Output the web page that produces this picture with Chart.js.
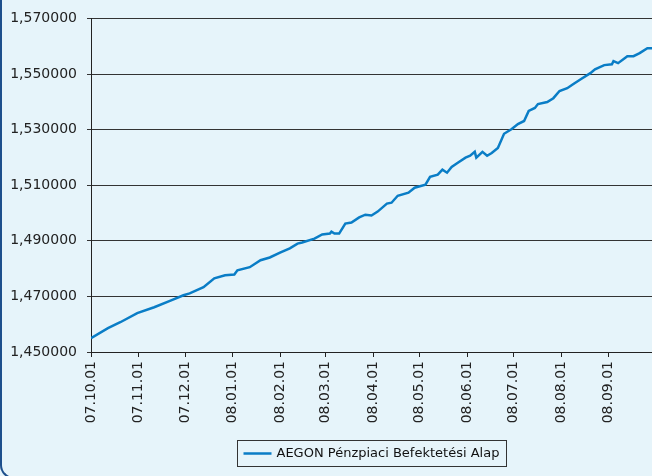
<!DOCTYPE html>
<html>
<head>
<meta charset="utf-8">
<script src="https://cdn.jsdelivr.net/npm/chart.js@4.4.1/dist/chart.umd.min.js"></script>
<style>
  html, body { margin: 0; padding: 0; width: 652px; height: 476px; overflow: hidden; background: #E6F4FA; }
  #frame { position: absolute; left: 0; top: 0; width: 700px; height: 479px; box-sizing: border-box;
           border-left: 2px solid #1D4F8C; border-bottom: 2px solid #1D4F8C;
           border-bottom-left-radius: 14px; z-index: 0; }
  #wrap { position: absolute; left: 0; top: 0; width: 652px; height: 476px; z-index: 1; }
</style>
</head>
<body>
<div id="frame"></div>
<div id="wrap"><canvas id="c" width="652" height="476"></canvas></div>
<script>
// ---- Data ----
const seriesLabel = 'AEGON Pénzpiaci Befektetési Alap';
const dates = [
  '2007-10-01','2007-10-12','2007-10-20','2007-10-31','2007-11-11','2007-11-22','2007-11-30',
  '2007-12-04','2007-12-13','2007-12-20','2007-12-27','2008-01-02','2008-01-04','2008-01-12',
  '2008-01-19','2008-01-25','2008-02-01','2008-02-07','2008-02-12','2008-02-15','2008-02-23',
  '2008-02-28','2008-03-04','2008-03-05','2008-03-07','2008-03-10','2008-03-14','2008-03-18',
  '2008-03-23','2008-03-27','2008-03-31','2008-04-04','2008-04-10','2008-04-13','2008-04-17',
  '2008-04-24','2008-04-28','2008-05-05','2008-05-08','2008-05-13','2008-05-16','2008-05-19',
  '2008-05-22','2008-05-26','2008-05-31','2008-06-03','2008-06-06','2008-06-07','2008-06-11',
  '2008-06-14','2008-06-17','2008-06-21','2008-06-25','2008-06-30','2008-07-04','2008-07-08',
  '2008-07-11','2008-07-15','2008-07-17','2008-07-23','2008-07-27','2008-07-31','2008-08-05',
  '2008-08-09','2008-08-14','2008-08-20','2008-08-23','2008-08-29','2008-09-03','2008-09-04',
  '2008-09-07','2008-09-13','2008-09-17','2008-09-21','2008-09-26','2008-09-29'
];
const values = [
  1.4550,1.4586,1.4607,1.4640,1.4661,1.4686,1.4704,
  1.4711,1.4733,1.4765,1.4776,1.4779,1.4794,1.4805,
  1.4830,1.4840,1.4858,1.4873,1.4890,1.4894,1.4908,
  1.4923,1.4926,1.4933,1.4926,1.4926,1.4962,1.4966,
  1.4984,1.4994,1.4991,1.5005,1.5034,1.5037,1.5062,
  1.5073,1.5091,1.5102,1.5130,1.5138,1.5156,1.5145,
  1.5166,1.5181,1.5199,1.5206,1.5220,1.5199,1.5220,
  1.5206,1.5216,1.5234,1.5285,1.5302,1.5320,1.5331,
  1.5367,1.5378,1.5392,1.5399,1.5413,1.5439,1.5449,
  1.5464,1.5482,1.5503,1.5517,1.5532,1.5535,1.5546,
  1.5539,1.5564,1.5564,1.5575,1.5593,1.5593
];
const xTickLabels = ['07.10.01','07.11.01','07.12.01','08.01.01','08.02.01','08.03.01',
                     '08.04.01','08.05.01','08.06.01','08.07.01','08.08.01','08.09.01'];
const xEndDate = '2008-09-29';
const yMin = 1.45, yMax = 1.57, yStep = 0.02;

// ---- Helpers ----
const DAY = 86400000;
const t0 = Date.UTC(2007, 9, 1);
function isoToDay(s) { const [y, m, d] = s.split('-').map(Number); return Math.round((Date.UTC(y, m - 1, d) - t0) / DAY); }
function lblToDay(s) { const [yy, mm, dd] = s.split('.').map(Number); return Math.round((Date.UTC(2000 + yy, mm - 1, dd) - t0) / DAY); }
const tickDays = xTickLabels.map(lblToDay);
const points = dates.map((d, i) => ({ x: isoToDay(d), y: values[i] }));

const FONT = '"DejaVu Sans", "Liberation Sans", Arial, sans-serif';
const LINE_COLOR = '#0A7DC6';

const boxLegend = {
  id: 'boxLegend',
  afterDraw(chart) {
    const ctx = chart.ctx;
    const ca = chart.chartArea;
    ctx.save();
    ctx.font = '13px ' + FONT;
    const label = chart.data.datasets[0].label;
    const tw = ctx.measureText(label).width;
    const w = tw + 46, h = 26;
    const cx = (ca.left + ca.right) / 2;
    const left = Math.round(cx - w / 2) + 0.5;
    const top = 440.5;
    ctx.strokeStyle = '#333';
    ctx.lineWidth = 1;
    ctx.strokeRect(left, top, Math.round(w), h);
    const my = top + h / 2;
    ctx.strokeStyle = LINE_COLOR;
    ctx.lineWidth = 2.5;
    ctx.beginPath(); ctx.moveTo(left + 6, my); ctx.lineTo(left + 34, my); ctx.stroke();
    ctx.fillStyle = '#111';
    ctx.textBaseline = 'middle';
    ctx.textAlign = 'left';
    ctx.fillText(label, left + 39, my + 0.5);
    ctx.restore();
  }
};

new Chart(document.getElementById('c'), {
  type: 'line',
  data: {
    datasets: [{
      label: seriesLabel,
      data: points,
      borderColor: LINE_COLOR,
      borderWidth: 2.5,
      pointRadius: 0,
      tension: 0,
      fill: false
    }]
  },
  options: {
    responsive: false,
    animation: false,
    layout: { padding: { top: 17, left: 0, right: 0, bottom: 0 } },
    plugins: { legend: { display: false }, tooltip: { enabled: false } },
    scales: {
      x: {
        type: 'linear',
        min: 0,
        max: isoToDay(xEndDate),
        afterBuildTicks(scale) { scale.ticks = tickDays.map(v => ({ value: v })); },
        afterFit(scale) { scale.height = 124; },
        grid: { drawOnChartArea: false, drawTicks: true, tickLength: 5, color: '#222' },
        border: { color: '#222', width: 1 },
        ticks: {
          autoSkip: false, minRotation: 90, maxRotation: 90, padding: 4,
          color: '#222', font: { family: FONT, size: 14 },
          callback(v) { const i = tickDays.indexOf(v); return i >= 0 ? xTickLabels[i] : ''; }
        }
      },
      y: {
        min: yMin, max: yMax,
        afterFit(scale) { scale.width = 91; },
        grid: { color: '#333', lineWidth: 1, tickLength: 4 },
        border: { color: '#222', width: 1 },
        ticks: {
          stepSize: yStep, padding: 10,
          color: '#222', font: { family: FONT, size: 14 },
          callback(v) { return Number(v).toFixed(6).replace('.', ','); }
        }
      }
    }
  },
  plugins: [boxLegend]
});
</script>
</body>
</html>
